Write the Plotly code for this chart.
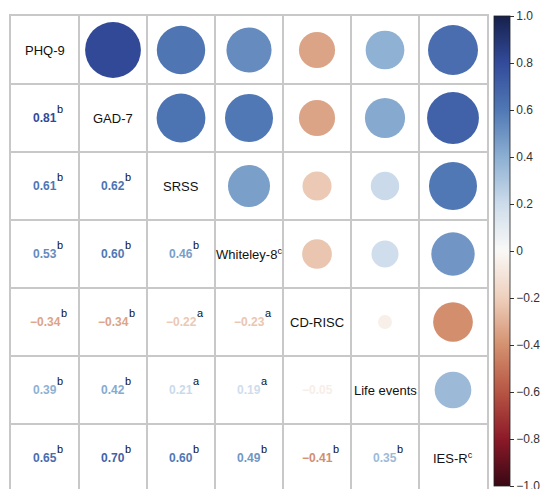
import numpy as np
import plotly.graph_objects as go
from plotly.colors import sample_colorscale

# Scales and their correlation matrix (lower triangle, row-wise)
labels = ["PHQ-9", "GAD-7", "SRSS", "Whiteley-8", "CD-RISC", "Life events", "IES-R"]
label_marks = ["", "", "", "c", "", "", "c"]

corr_lower = [
    [],
    [0.81],
    [0.61, 0.62],
    [0.53, 0.60, 0.46],
    [-0.34, -0.34, -0.22, -0.23],
    [0.39, 0.42, 0.21, 0.19, -0.05],
    [0.65, 0.70, 0.60, 0.49, -0.41, 0.35],
]
sig_marks = [
    [],
    ["b"],
    ["b", "b"],
    ["b", "b", "b"],
    ["b", "b", "a", "a"],
    ["b", "b", "a", "a", ""],
    ["b", "b", "b", "b", "b", "b"],
]

cbar_vals = [1.0, 0.8, 0.6, 0.4, 0.2, 0.0, -0.2, -0.4, -0.6, -0.8, -1.0]
cbar_text = ["1.0", "0.8", "0.6", "0.4", "0.2", "0", "\u22120.2", "\u22120.4",
             "\u22120.6", "\u22120.8", "\u22121.0"]

FONT = "Liberation Sans, Arial, sans-serif"
GRID = "#c8c8c8"
MAX_DIAMETER = 62

colorscale = [
    [0.0, "rgb(55,8,20)"],
    [0.1, "rgb(140,25,40)"],
    [0.2, "rgb(182,85,68)"],
    [0.3, "rgb(212,145,112)"],
    [0.4, "rgb(238,207,188)"],
    [0.5, "rgb(250,249,247)"],
    [0.6, "rgb(205,220,235)"],
    [0.7, "rgb(140,175,210)"],
    [0.8, "rgb(80,120,180)"],
    [0.9, "rgb(50,75,155)"],
    [1.0, "rgb(22,32,75)"],
]


def value_color(v):
    return sample_colorscale(colorscale, [(v + 1) / 2])[0]


def bold_width(s, size=12):
    em = {".": 0.278, "\u2212": 0.584}
    return sum(em.get(ch, 0.556) for ch in s) * size


n = len(labels)

# Upper triangle: circles sized and coloured by r
xs, ys, vals = [], [], []
for i in range(n):
    for j in range(i + 1, n):
        xs.append(j)
        ys.append(i)
        vals.append(corr_lower[j][i])

fig = go.Figure()
fig.add_trace(go.Scatter(
    x=xs, y=ys, mode="markers",
    marker=dict(
        size=[MAX_DIAMETER * np.sqrt(abs(v)) for v in vals],
        sizemode="diameter",
        color=vals, colorscale=colorscale, cmin=-1, cmax=1,
        line=dict(width=0), opacity=1,
        showscale=True,
        colorbar=dict(
            x=(494 - 11) / 476, xanchor="left", xpad=0,
            y=1, yanchor="top", len=0.993, lenmode="fraction", ypad=0,
            thickness=16, outlinewidth=0.8, outlinecolor="#222",
            ticks="outside", ticklen=4, tickcolor="#333",
            tickvals=cbar_vals, ticktext=cbar_text,
            ticklabeloverflow="allow",
            tickfont=dict(family=FONT, size=12, color="#333"),
        ),
    ),
    hoverinfo="skip", showlegend=False,
))

annotations = []
# Diagonal: scale names
for k, name in enumerate(labels):
    txt = name + (f"<sup>{label_marks[k]}</sup>" if label_marks[k] else "")
    annotations.append(dict(x=k, y=k, text=txt, showarrow=False,
                            font=dict(family=FONT, size=13, color="#111")))

# Lower triangle: coefficient values with significance marks
for i in range(n):
    for j in range(i):
        v = corr_lower[i][j]
        s = f"{v:.2f}".replace("-", "\u2212")
        annotations.append(dict(x=j, y=i, text=f"<b>{s}</b>", showarrow=False,
                                font=dict(family=FONT, size=12, color=value_color(v))))
        if sig_marks[i][j]:
            annotations.append(dict(x=j, y=i, text=sig_marks[i][j], showarrow=False,
                                    xanchor="left",
                                    xshift=bold_width(s) / 2 - 1.5, yshift=9,
                                    font=dict(family=FONT, size=11, color="#111")))

inner = [k + 0.5 for k in range(n - 1)]
fig.update_layout(
    width=544, height=489,
    margin=dict(l=11, r=57, t=16, b=0, pad=0),
    paper_bgcolor="white", plot_bgcolor="white",
    annotations=annotations,
    xaxis=dict(range=[-0.5, n - 0.5], tickvals=inner, showticklabels=False, ticks="",
               showgrid=True, gridcolor=GRID, gridwidth=1.5, zeroline=False,
               side="top", showline=True, linecolor=GRID, linewidth=1.5),
    yaxis=dict(range=[-0.5 + 473 / 68, -0.5], tickvals=inner, showticklabels=False, ticks="",
               showgrid=True, gridcolor=GRID, gridwidth=1.5, zeroline=False,
               showline=True, mirror=True, linecolor=GRID, linewidth=1.5),
)

fig.write_html("out.html")
